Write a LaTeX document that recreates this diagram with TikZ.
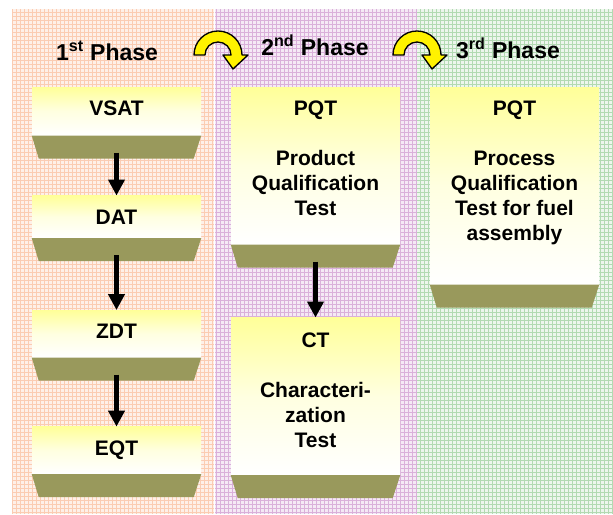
\documentclass[tikz,border=0pt]{standalone}
\usepackage{fontspec}
\setmainfont{Liberation Sans}
\usetikzlibrary{arrows.meta, positioning}
\definecolor{boxtop}{RGB}{255,255,153}
\definecolor{footolive}{RGB}{153,153,92}
\definecolor{orangebg}{RGB}{254,240,232}
\definecolor{orangeln}{RGB}{251,204,178}
\definecolor{purplebg}{RGB}{245,233,245}
\definecolor{purpleln}{RGB}{218,176,218}
\definecolor{greenbg}{RGB}{237,246,237}
\definecolor{greenln}{RGB}{178,218,178}
\tikzset{
  testbox/.style = {rectangle, inner sep=0pt, minimum width=126.75pt,
                    top color=boxtop, bottom color=white,
                    middle color=boxtop!30!white, anchor=north},
  boxtext/.style = {inner sep=0pt, align=center,
                    font=\bfseries\fontsize{15.75}{18.75}\selectfont},
  phase/.style   = {inner sep=0pt, anchor=base,
                    font=\bfseries\fontsize{17.25}{20}\selectfont},
  foot/.style    = {fill=footolive},
  arr/.style     = {-{Triangle[length=12pt, width=12pt]}, line width=3.3pt},
  turn/.style    = {fill=yellow, draw=black, line width=1pt, line join=round},
}

\begin{document}
\begin{tikzpicture}[x=0.75pt, y=-0.75pt]
\useasboundingbox (0,0) rectangle (613,514);

% ── Phase panels ─────────────────────────────────────────
\fill[orangebg] (12,9) rectangle (214,514);
\draw[orangeln, line width=0.65pt, step=3pt] (12,9) grid (214,514);
\fill[purplebg] (215,9) rectangle (416,514);
\draw[purpleln, line width=0.65pt, step=3pt] (215,9) grid (416,514);
\fill[greenbg] (417,9) rectangle (613,514);
\draw[greenln, line width=0.65pt, step=3pt] (417,9) grid (613,514);

% ── Phase titles ─────────────────────────────────────────
\node[phase] (ph1) at (107,60) {1\textsuperscript{st} Phase};
\node[phase] (ph2) at (315,55) {2\textsuperscript{nd} Phase};
\node[phase] (ph3) at (508,58) {3\textsuperscript{rd} Phase};

% ── Turn arrows between phases ───────────────────────────
\foreach \cx in {218,417} {
  \begin{scope}[shift={(\cx,55)}, x=0.75pt, y=0.75pt]
    \path[turn] (-24,0) arc[start angle=180, end angle=0, radius=24]
      -- (30,0) -- (15,-14) -- (5,0) -- (13,0)
      arc[start angle=0, end angle=180, radius=13] -- cycle;
  \end{scope}
}

% ── 1st phase tests ──────────────────────────────────────
\node[testbox, minimum height=36pt] (vsat) at (116.5,87) {};
\node[testbox, minimum height=31.5pt, below=45pt of vsat] (dat) {};
\node[testbox, minimum height=35.25pt, below=54pt of dat] (zdt) {};
\node[testbox, minimum height=35.25pt, below=51.75pt of zdt] (eqt) {};

% ── 2nd and 3rd phase tests ──────────────────────────────
\node[testbox, minimum height=117.75pt] (prodqt) at (315.5,87) {};
\node[testbox, minimum height=117.75pt, below=54.75pt of prodqt] (ct) {};
\node[testbox, minimum height=147.75pt] (procqt) at (514.5,87) {};

% ── Olive feet under the boxes ───────────────────────────
\foreach \b in {vsat,dat,zdt,eqt,prodqt,ct,procqt} {
  \fill[foot] (\b.south west) -- ++(7,23) -- ++(155,0) -- (\b.south east) -- cycle;
  \coordinate (\b-out) at ([yshift=-12.75pt]\b.south);
}

% ── Box texts ────────────────────────────────────────────
\node[boxtext, below=10.5pt of vsat.north] (vsat-txt) {VSAT};
\node[boxtext, below=10.5pt of dat.north] (dat-txt) {DAT};
\node[boxtext, below=10.5pt of zdt.north] (zdt-txt) {ZDT};
\node[boxtext, below=10.5pt of eqt.north] (eqt-txt) {EQT};
\node[boxtext, below=10.5pt of prodqt.north] (prodqt-txt)
      {PQT\\[18.75pt]Product\\Qualification\\Test};
\node[boxtext, below=11pt of ct.north] (ct-txt)
      {CT\\[18.75pt]Characteri-\\zation\\Test};
\node[boxtext, below=10.5pt of procqt.north] (procqt-txt)
      {PQT\\[18.75pt]Process\\Qualification\\Test for fuel\\assembly};

% ── Arrows ───────────────────────────────────────────────
\draw[arr] (vsat-out)   -- (dat.north);
\draw[arr] (dat-out)    -- (zdt.north);
\draw[arr] (zdt-out)    -- (eqt.north);
\draw[arr] (prodqt-out) -- (ct.north);

\end{tikzpicture}
\end{document}
